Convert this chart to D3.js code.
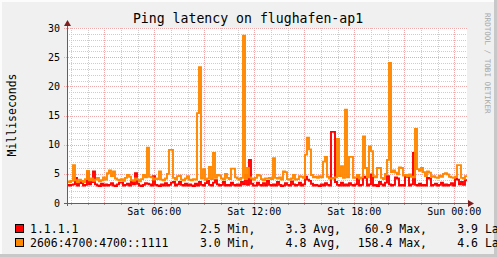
<!DOCTYPE html>
<html>
<head>
<meta charset="utf-8">
<script src="https://cdn.jsdelivr.net/npm/d3@7"></script>
<style>
  body { margin: 0; background: #f0f0f0; }
  svg { display: block; font-family: "DejaVu Sans Mono", monospace; }
</style>
</head>
<body>
<svg class="chart"></svg>
<script>
// series names and legend stats
var seriesNames = ["1.1.1.1", "2606:4700:4700::1111"];
var statMin  = [2.5, 3.0];
var statAvg  = [3.3, 4.8];
var statMax  = [60.9, 158.4];
var statLast = [3.9, 4.6];

// one value per 7.2 minutes, Sat 00:46 -> Sun 00:46 (ms)
var pingV4 = [
  3.1,3.0,3.1,3.2,4.3,3.0,3.6,3.4,3.0,3.1,5.3,3.2,3.6,5.4,3.2,3.0,2.9,3.3,3.0,3.2,
  3.0,3.1,3.4,3.0,2.9,3.2,3.5,3.5,3.0,3.1,3.3,3.0,3.6,3.2,5.1,3.3,3.0,2.9,3.1,3.4,
  3.3,3.2,3.0,4.6,3.1,3.0,2.9,3.2,3.0,3.4,3.0,3.1,3.5,3.6,3.0,3.2,3.6,3.1,3.0,3.3,
  3.0,3.2,3.0,2.9,3.3,3.0,3.6,3.1,3.0,3.4,3.8,3.1,3.0,3.5,3.9,3.2,3.0,3.1,3.6,3.0,
  3.1,3.0,3.5,3.1,3.0,3.2,3.0,3.6,3.2,4.8,3.1,7.4,3.3,3.0,3.0,3.5,3.1,3.0,3.4,3.0,
  3.8,3.1,3.0,3.2,3.0,3.6,3.1,2.9,3.0,3.4,3.1,3.0,3.7,3.2,3.0,3.1,3.5,3.0,3.2,4.5,
  4.0,3.8,3.3,3.0,3.1,3.0,2.9,3.2,3.0,3.4,3.1,3.0,12.2,12.2,3.6,3.1,3.0,3.5,3.0,3.2,
  3.0,3.4,3.1,3.0,3.2,4.8,3.0,3.1,4.5,4.3,3.0,3.2,4.9,3.0,3.1,2.9,3.6,3.2,3.0,3.5,
  4.6,3.2,3.0,3.1,4.4,4.2,3.0,3.1,3.0,4.7,4.5,3.0,3.2,8.6,3.1,3.0,3.3,3.0,3.1,3.0,
  4.3,4.2,3.0,3.1,3.3,3.0,3.1,3.5,3.0,3.2,3.0,3.1,3.4,3.0,4.2,4.0,3.2,3.6,3.1,3.9
];
var pingV6 = [
  3.7,3.6,3.8,6.5,3.9,3.6,4.0,3.8,3.6,4.1,5.5,3.9,4.2,3.8,4.0,4.3,3.7,3.9,4.4,4.0,
  5.1,5.6,4.6,5.4,4.2,4.0,3.9,4.1,3.8,4.3,4.8,4.5,3.9,3.8,4.2,4.0,3.7,4.1,4.8,4.4,
  9.5,4.5,4.4,4.0,4.2,4.1,5.4,4.0,3.9,4.2,5.0,9.1,9.1,4.3,4.0,4.6,4.7,4.0,3.9,4.2,
  4.6,4.0,3.9,4.1,4.0,15.4,23.3,4.2,5.8,4.0,4.2,6.2,4.1,8.6,4.3,4.8,4.7,4.2,4.0,5.0,
  4.3,4.1,5.9,5.9,4.4,4.2,4.0,4.3,28.7,4.1,6.0,4.4,4.2,4.0,4.3,4.8,4.7,4.1,3.9,4.2,
  4.2,4.3,4.1,7.7,4.3,4.2,4.4,4.0,5.4,5.3,4.1,4.0,4.2,4.8,4.0,4.1,4.6,4.5,4.3,8.3,
  11.2,9.2,4.8,4.4,4.5,4.3,4.6,4.4,7.1,7.9,4.5,4.2,4.2,4.3,4.4,11.0,4.6,6.3,4.3,16.0,
  4.4,7.9,7.9,4.3,4.4,4.8,4.2,4.4,11.4,6.0,4.4,9.7,8.9,4.6,4.4,6.0,6.0,4.3,4.1,5.0,
  7.4,24.0,5.3,5.6,5.2,4.9,6.1,6.0,4.7,4.8,4.6,4.9,4.5,4.4,12.7,5.8,5.5,6.0,5.3,4.6,
  5.4,5.2,4.5,4.6,4.4,4.3,4.7,4.5,5.0,5.1,4.9,4.5,4.4,4.3,4.5,6.5,6.5,4.3,4.2,4.6
];
var yTicks = [0, 5, 10, 15, 20, 25, 30];

var W = 497, H = 257;
var plotL = 67, plotR = 467, plotT = 28, plotB = 203;
var colors = ["#ff0000", "#ff8800"];

var start = new Date(2024, 2, 2, 0, 46);
var end = new Date(start.getTime() + 24 * 3600 * 1000);
var stepMs = (end - start) / pingV4.length;

var svg = d3.select("svg.chart")
    .attr("width", W)
    .attr("height", H);

// frame
svg.append("rect").attr("width", W).attr("height", H).attr("fill", "#f0f0f0");
svg.append("rect").attr("x", 0).attr("y", 0).attr("width", W).attr("height", 2).attr("fill", "#fcfcfc");
svg.append("rect").attr("x", 0).attr("y", 0).attr("width", 2).attr("height", H).attr("fill", "#fcfcfc");
svg.append("rect").attr("x", W - 3).attr("y", 0).attr("width", 3).attr("height", H).attr("fill", "#c8c8c8");
svg.append("rect").attr("x", 0).attr("y", H - 3).attr("width", W).attr("height", 3).attr("fill", "#c8c8c8");

// canvas
svg.append("rect")
    .attr("x", plotL).attr("y", plotT)
    .attr("width", plotR - plotL).attr("height", plotB - plotT)
    .attr("fill", "#ffffff");

var x = d3.scaleTime().domain([start, end]).range([plotL, plotR]);
var y = d3.scaleLinear().domain([0, 30]).range([plotB, plotT]);

var grid = svg.append("g").attr("shape-rendering", "crispEdges");

// minor grid
var hours = x.ticks(d3.timeHour.every(1));
grid.selectAll("line.vmin")
    .data(hours)
    .enter().append("line")
        .attr("x1", function(d) { return Math.round(x(d)) + 0.5; })
        .attr("x2", function(d) { return Math.round(x(d)) + 0.5; })
        .attr("y1", plotT).attr("y2", plotB)
        .attr("stroke", "#cdcdcd")
        .style("stroke-dasharray", "1,1");

var minorY = y.ticks(30).filter(function(v) { return v % 5 !== 0; });
grid.selectAll("line.hmin")
    .data(minorY)
    .enter().append("line")
        .attr("x1", plotL).attr("x2", plotR)
        .attr("y1", function(d) { return Math.round(y(d)) + 0.5; })
        .attr("y2", function(d) { return Math.round(y(d)) + 0.5; })
        .attr("stroke", "#cdcdcd")
        .style("stroke-dasharray", "1,1");

// major grid
var major = x.ticks(d3.timeHour.every(3));
grid.selectAll("line.vmaj")
    .data(major)
    .enter().append("line")
        .attr("x1", function(d) { return Math.round(x(d)) + 0.5; })
        .attr("x2", function(d) { return Math.round(x(d)) + 0.5; })
        .attr("y1", plotT).attr("y2", plotB + 3)
        .attr("stroke", "#eeaaaa")
        .style("stroke-dasharray", "1,1");

grid.selectAll("line.hmaj")
    .data(yTicks)
    .enter().append("line")
        .attr("x1", plotL - 3).attr("x2", plotR)
        .attr("y1", function(d) { return Math.round(y(d)) + 0.5; })
        .attr("y2", function(d) { return Math.round(y(d)) + 0.5; })
        .attr("stroke", "#eeaaaa")
        .style("stroke-dasharray", "1,1");

// hourly ticks under the axis
grid.selectAll("line.tick")
    .data(hours)
    .enter().append("line")
        .attr("x1", function(d) { return Math.round(x(d)) + 0.5; })
        .attr("x2", function(d) { return Math.round(x(d)) + 0.5; })
        .attr("y1", plotB).attr("y2", plotB + 2)
        .attr("stroke", "#a0a0a0");

// series
var line = d3.line()
    .x(function(d) { return x(d.t); })
    .y(function(d) { return y(d.v); })
    .curve(d3.curveStepAfter);

[pingV4, pingV6].forEach(function(vals, k) {
    var pts = vals.map(function(v, i) { return { t: new Date(start.getTime() + i * stepMs), v: v }; });
    pts.push({ t: end, v: vals[vals.length - 1] });
    svg.append("path")
        .datum(pts)
        .attr("d", line)
        .attr("fill", "none")
        .attr("stroke", colors[k])
        .attr("stroke-width", 1.9)
        .attr("stroke-linejoin", "miter");
});

// axes
svg.append("line")
    .attr("x1", plotL + 0.5).attr("x2", plotL + 0.5)
    .attr("y1", plotB + 3).attr("y2", plotT - 4)
    .attr("stroke", "#606060").attr("shape-rendering", "crispEdges");
svg.append("line")
    .attr("x1", plotL - 3).attr("x2", plotR + 4)
    .attr("y1", plotB + 0.5).attr("y2", plotB + 0.5)
    .attr("stroke", "#606060").attr("shape-rendering", "crispEdges");
svg.append("path")
    .attr("d", "M" + (plotL - 3) + "," + (plotT - 2) + "L" + (plotL + 0.5) + "," + (plotT - 8) + "L" + (plotL + 4) + "," + (plotT - 2) + "Z")
    .attr("fill", "#7f1f1f");
svg.append("path")
    .attr("d", "M" + (plotR + 1) + "," + (plotB - 3) + "L" + (plotR + 7) + "," + (plotB + 0.5) + "L" + (plotR + 1) + "," + (plotB + 4) + "Z")
    .attr("fill", "#7f1f1f");

// y tick labels
svg.selectAll("text.ylab")
    .data(yTicks)
    .enter().append("text")
        .attr("x", plotL - 7)
        .attr("y", function(d) { return y(d) + 3.5; })
        .attr("text-anchor", "end")
        .attr("font-size", "10px")
        .attr("fill", "#000")
        .text(function(d) { return d; });

// x tick labels
var fmt = d3.timeFormat("%a %H:%M");
svg.selectAll("text.xlab")
    .data(x.ticks(d3.timeHour.every(6)))
    .enter().append("text")
        .attr("x", function(d) { return x(d); })
        .attr("y", 215)
        .attr("text-anchor", "middle")
        .attr("font-size", "10px")
        .attr("fill", "#000")
        .text(function(d) { return fmt(d); });

// title, axis label, watermark
svg.append("text")
    .attr("x", 248).attr("y", 23)
    .attr("text-anchor", "middle")
    .attr("font-size", "13.2px")
    .text("Ping latency on flughafen-ap1");

svg.append("text")
    .attr("transform", "translate(16,115) rotate(-90)")
    .attr("text-anchor", "middle")
    .attr("font-size", "11.5px")
    .text("Milliseconds");

svg.append("text")
    .attr("transform", "translate(485,13) rotate(90)")
    .attr("text-anchor", "start")
    .attr("font-size", "7.6px")
    .attr("fill", "#a8a8a8")
    .text("RRDTOOL / TOBI OETIKER");

// legend
var legendY = [233, 247];
var numX = [220.7, 306.4, 392.4, 478];
var suffix = [" Min,", " Avg,", " Max,", " Last"];
seriesNames.forEach(function(name, k) {
    var g = svg.append("g").attr("font-size", "11.5px");
    g.append("rect")
        .attr("x", 15.5).attr("y", legendY[k] - 8.5)
        .attr("width", 8).attr("height", 8)
        .attr("fill", colors[k]).attr("stroke", "#000").attr("stroke-width", 1);
    g.append("text").attr("x", 30).attr("y", legendY[k]).text(name);
    [statMin[k], statAvg[k], statMax[k], statLast[k]].forEach(function(v, j) {
        g.append("text").attr("x", numX[j]).attr("y", legendY[k])
            .attr("text-anchor", "end").text(v.toFixed(1));
        g.append("text").attr("x", numX[j]).attr("y", legendY[k])
            .attr("xml:space", "preserve").text(suffix[j]);
    });
});
</script>
</body>
</html>
